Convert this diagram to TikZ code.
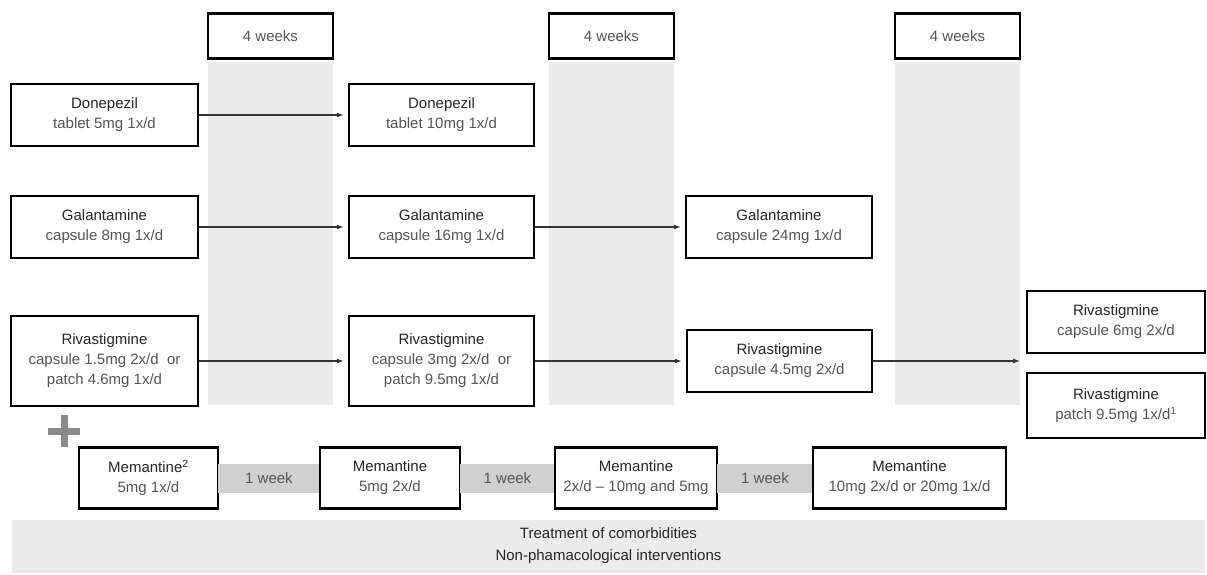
\documentclass[tikz,border=0pt]{standalone}
\usepackage{fontspec}
\setmainfont{Liberation Sans}
\usepackage{tikz}
\usetikzlibrary{arrows.meta,positioning}
\definecolor{colgrey}{RGB}{235,235,235}
\definecolor{weekgrey}{RGB}{208,208,208}
\definecolor{bandgrey}{RGB}{236,236,236}
\definecolor{titlegrey}{RGB}{38,38,38}
\definecolor{dosegrey}{RGB}{85,85,85}
\definecolor{plusgrey}{RGB}{138,138,138}
\newcommand{\drug}[2]{{\color{titlegrey}#1}\\#2}

\begin{document}
\begin{tikzpicture}[
  x=1pt, y=-1pt, >={Latex[length=7pt,width=5pt]},
  box/.style={draw=black, line width=2.4pt, fill=white, align=center, inner sep=0pt,
              minimum height=62pt, text=dosegrey, font=\fontsize{15}{20}\selectfont},
  wkbox/.style={box, minimum width=125pt, minimum height=45pt},
  col/.style={fill=colgrey, minimum width=125pt, minimum height=343pt, inner sep=0pt},
  gap/.style={fill=weekgrey, minimum height=29pt, inner sep=0pt, text=dosegrey,
              font=\fontsize{15}{20}\selectfont},
  flow/.style={->, line width=1.1pt, draw=black!80, shorten >=4pt}]
\useasboundingbox (0,0) rectangle (1207,575);
% four-week columns
\node[col] (col1) at (270.5,233.5) {};
\node[col] (col2) at (611.5,233.5) {};
\node[col] (col3) at (957.5,233.5) {};
\node[wkbox, above=2pt of col1] (wk1) {4 weeks};
\node[wkbox, above=2pt of col2] (wk2) {4 weeks};
\node[wkbox, above=2pt of col3] (wk3) {4 weeks};
% Donepezil
\node[box, minimum width=187pt] (don1) at (104.5,115) {\drug{Donepezil}{tablet 5mg 1x/d}};
\node[box, minimum width=185pt] (don2) at (441.5,115) {\drug{Donepezil}{tablet 10mg 1x/d}};
% Galantamine
\node[box, minimum width=187pt] (gal1) at (104.5,227) {\drug{Galantamine}{capsule 8mg 1x/d}};
\node[box, minimum width=185pt] (gal2) at (441.5,227) {\drug{Galantamine}{capsule 16mg 1x/d}};
\node[box, minimum width=186pt] (gal3) at (779,227) {\drug{Galantamine}{capsule 24mg 1x/d}};
% Rivastigmine
\node[box, minimum width=187pt, minimum height=90pt] (riv1) at (104.5,361)
  {\drug{Rivastigmine}{capsule 1.5mg 2x/d\ \ or\\patch 4.6mg 1x/d}};
\node[box, minimum width=185pt, minimum height=90pt] (riv2) at (441.5,361)
  {\drug{Rivastigmine}{capsule 3mg 2x/d\ \ or\\patch 9.5mg 1x/d}};
\node[box, minimum width=185pt] (riv3) at (779.5,361) {\drug{Rivastigmine}{capsule 4.5mg 2x/d}};
\node[box, minimum width=178pt] (riv4a) at (1116,322) {\drug{Rivastigmine}{capsule 6mg 2x/d}};
\node[box, minimum width=178pt, minimum height=65pt] (riv4b) at (1116,405.5)
  {\drug{Rivastigmine}{patch 9.5mg 1x/d\textsuperscript{1}}};
\coordinate (rivend) at (1024,361);
\draw[flow] (don1) -- (don2);
\draw[flow] (gal1) -- (gal2);
\draw[flow] (gal2) -- (gal3);
\draw[flow] (riv1) -- (riv2);
\draw[flow] (riv2) -- (riv3);
\draw[flow] (riv3) -- (rivend);
% plus
\draw[plusgrey, line width=7pt] (48,431) -- (80,431) (64,415) -- (64,447);
% Memantine
\node[box, minimum width=139pt, minimum height=61pt] (mem1) at (148.5,478)
  {\drug{Memantine\textsuperscript{2}}{5mg 1x/d}};
\node[gap, minimum width=102pt, right=-1.4pt of mem1] (wkm1) {1 week};
\node[box, minimum width=140pt, minimum height=61pt, right=-1.4pt of wkm1] (mem2)
  {\drug{Memantine}{5mg 2x/d}};
\node[gap, minimum width=95pt, right=-1.4pt of mem2] (wkm2) {1 week};
\node[box, minimum width=162pt, minimum height=61pt, right=-1.4pt of wkm2] (mem3)
  {\drug{Memantine}{2x/d -- 10mg and 5mg}};
\node[gap, minimum width=96pt, right=-1.4pt of mem3] (wkm3) {1 week};
\node[box, minimum width=193pt, minimum height=61pt, right=-1.4pt of wkm3] (mem4)
  {\drug{Memantine}{10mg 2x/d or 20mg 1x/d}};
% general measures
\node[fill=bandgrey, minimum width=1193pt, minimum height=53pt, inner sep=0pt,
      align=center, text=titlegrey, font=\fontsize{15}{22}\selectfont] (care) at (608.5,546)
  {Treatment of comorbidities\\Non-phamacological interventions};
\end{tikzpicture}
\end{document}
